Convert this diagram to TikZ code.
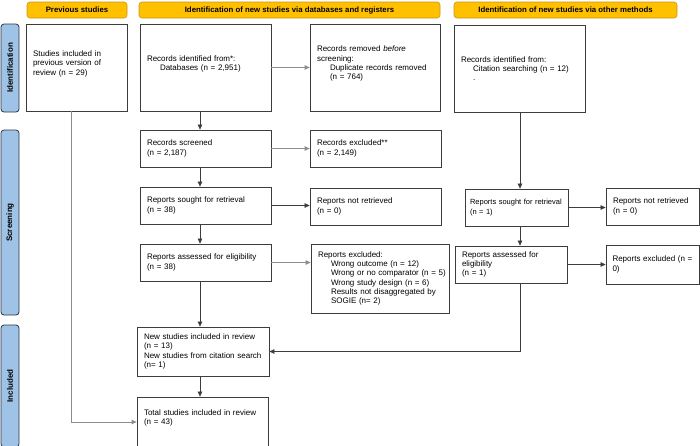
\documentclass[tikz,border=0pt]{standalone}
\usepackage{fontspec}
\setmainfont{Liberation Sans}
\usetikzlibrary{arrows.meta}
\definecolor{hdrgold}{RGB}{255,192,0}
\definecolor{hdrline}{RGB}{200,150,20}
\definecolor{sideblue}{RGB}{158,195,230}
\definecolor{sideline}{RGB}{45,55,70}
\definecolor{boxline}{RGB}{60,60,60}
\definecolor{linkgray}{RGB}{140,140,140}
\tikzset{
  box/.style={draw=boxline, line width=0.8pt, inner xsep=7pt, inner ysep=0pt,
    text width=#1, align=left, font=\fontsize{8}{9.3}\selectfont},
  hdr/.style={draw=hdrline, fill=hdrgold, rounded corners=3pt, line width=0.6pt,
    inner sep=0pt, font=\fontsize{7.8}{9}\selectfont\bfseries},
  side/.style={draw=sideline, fill=sideblue, rounded corners=3pt, line width=0.8pt,
    inner sep=0pt, rotate=90, minimum height=18pt, font=\fontsize{8}{9}\selectfont\bfseries},
  link/.style={-{Triangle[length=5pt,width=4.5pt]}, draw=boxline, line width=0.6pt},
  faint/.style={link, draw=linkgray, line width=0.8pt}
}
\newcommand{\ind}{\hspace*{13pt}}
\begin{document}
\begin{tikzpicture}[x=1pt,y=-1pt]
  \useasboundingbox (0,0) rectangle (700,445);
  \clip (0,0) rectangle (700,445);
  \fill[white] (0,0) rectangle (700,445);
  % headers and phase labels
  \node[hdr, minimum width=100pt, minimum height=16pt] (hprev) at (77,10) {Previous studies};
  \node[hdr, minimum width=301pt, minimum height=16pt] (hdb) at (289.5,10)
    {Identification of new studies via databases and registers};
  \node[hdr, minimum width=223pt, minimum height=16pt] (hoth) at (565.5,10)
    {Identification of new studies via other methods};
  \node[side, minimum width=88pt] (sident) at (10,68) {Identification};
  \node[side, minimum width=185pt] (sscreen) at (10,222.5) {Screening};
  \node[side, minimum width=122pt] (sincl) at (10,386) {Included};
  % previous studies
  \node[box=87pt, minimum height=87pt] (prev) at (76.5,67.5)
    {Studies included in\\previous version of\\review (n = 29)\\\mbox{}};
  % databases and registers
  \node[box=117pt, minimum height=87pt] (dbid) at (205.5,67.5)
    {Records identified from*:\\\ind Databases (n = 2,951)\\\mbox{}};
  \node[box=116pt, minimum height=87pt] (dbrem) at (375,67.5)
    {Records removed \textit{before}\\screening:\\\ind Duplicate records removed\\\ind(n = 764)\\\mbox{}};
  \node[box=117pt, minimum height=37pt] (screen) at (205.5,148.5)
    {Records screened\\(n = 2,187)};
  \node[box=117pt, minimum height=37pt] (scrExcl) at (375.5,148.5)
    {Records excluded**\\(n = 2,149)};
  \node[box=117pt, minimum height=37pt] (sought) at (205.5,205.5)
    {Reports sought for retrieval\\(n = 38)};
  \node[box=117pt, minimum height=37pt] (notret) at (375.5,206.5)
    {Reports not retrieved\\(n = 0)};
  \node[box=117pt, minimum height=37pt] (assess) at (205.5,262.5)
    {Reports assessed for eligibility\\(n = 38)};
  \node[box=124pt, minimum height=69pt] (assExcl) at (380,278.5)
    {Reports excluded:\\\ind Wrong outcome (n = 12)\\\ind\mbox{Wrong or no comparator (n = 5)}\\
     \ind Wrong study design (n = 6)\\\ind Results not disaggregated by\\\ind SOGIE (n= 2)};
  \node[box=118pt, minimum height=49pt] (newinc) at (203,351.5)
    {New studies included in review\\(n = 13)\\New studies from citation search\\(n= 1)};
  \node[box=117pt, minimum height=50pt] (total) at (202.5,422)
    {Total studies included in review\\(n = 43)\\\mbox{}};
  % other methods
  \node[box=117pt, minimum height=87pt] (othid) at (519.5,68.5)
    {Records identified from:\\\hspace*{12pt}Citation searching (n = 12)\\\hspace*{12pt}.};
  \node[box=93pt, inner xsep=5pt, minimum height=37pt, font=\fontsize{7.5}{9.3}\selectfont]
    (othsought) at (516.5,207.5) {Reports sought for retrieval\\(n = 1)};
  \node[box=79pt, minimum height=37pt] (othnotret) at (652.5,206.5)
    {Reports not retrieved\\(n = 0)};
  \node[box=98pt, minimum height=37pt] (othassess) at (511,264.5)
    {Reports assessed for\\eligibility\\(n = 1)};
  \node[box=80pt, inner xsep=6.5pt, minimum height=39pt] (othExcl) at (652.5,264.5)
    {Reports excluded (n =\\0)};
  % connector columns
  \coordinate (prevx) at (71,0);
  \coordinate (dbx) at (200,0);
  \coordinate (othx) at (520,0);
  % connectors
  \draw[faint] (prev.south -| prevx) |- (total.west);
  \draw[faint] (dbid.east) -- (dbrem.west);
  \draw[link] (dbid.south -| dbx) -- (screen.north -| dbx);
  \draw[faint] (screen.east) -- (scrExcl.west);
  \draw[link] (screen.south -| dbx) -- (sought.north -| dbx);
  \draw[link] (sought.east) -- (sought.east -| notret.west);
  \draw[link] (sought.south -| dbx) -- (assess.north -| dbx);
  \draw[faint] (assess.east) -- (assess.east -| assExcl.west);
  \draw[link] (assess.south -| dbx) -- (newinc.north -| dbx);
  \draw[link] (newinc.south -| dbx) -- (total.north -| dbx);
  \draw[link] (othid.south -| othx) -- (othsought.north -| othx);
  \draw[link] (othsought.east) -- (othsought.east -| othnotret.west);
  \draw[link] (othsought.south -| othx) -- (othassess.north -| othx);
  \draw[link] (othassess.east) -- (othExcl.west);
  \draw[link] (othassess.south -| othx) |- (newinc.east);
\end{tikzpicture}
\end{document}
